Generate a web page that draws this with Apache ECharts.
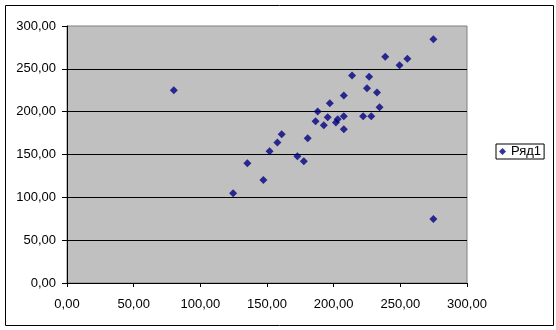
<!DOCTYPE html>
<html>
<head>
<meta charset="utf-8">
<script src="https://cdn.jsdelivr.net/npm/echarts@6/dist/echarts.min.js"></script>
<style>html,body{margin:0;padding:0;background:#fff;}#c{width:556px;height:330px;}</style>
</head>
<body>
<div id="c"></div>
<script>
var seriesName = 'Ряд1';
var xValues = [80.1,124.6,135.3,147.3,151.9,157.8,161.0,172.8,177.6,180.5,186.4,188.0,192.6,195.5,197.1,201.7,203.0,207.6,207.6,207.6,213.8,222.1,225.0,226.6,228.2,232.5,234.4,238.7,249.4,255.3,274.8,274.8];
var yValues = [225.0,104.9,139.9,120.1,153.9,164.0,173.7,148.1,142.2,169.0,188.9,200.1,184.2,193.5,209.8,187.3,191.2,194.7,218.8,179.5,242.1,194.7,227.3,240.9,194.7,222.3,205.2,264.2,254.1,261.9,284.5,74.6];
var points = xValues.map(function(x, i){ return [x, yValues[i]]; });
function fmt(v){ return v.toFixed(2).replace('.', ','); }
var font = 'Liberation Sans, Arial, sans-serif';
var chart = echarts.init(document.getElementById('c'), null, {renderer:'canvas'});
chart.setOption({
  animation: false,
  backgroundColor: '#fff',
  textStyle: {fontFamily: font},
  grid: {left: 67, right: 89, top: 26, bottom: 47, show: true, backgroundColor: '#C0C0C0', borderColor: '#808080', borderWidth: 1},
  xAxis: {
    type: 'value', min: 0, max: 300, interval: 50,
    axisLine: {show: true, onZero: false, lineStyle: {color: '#000', width: 1}},
    axisTick: {show: true, length: 4, lineStyle: {color: '#000'}},
    axisLabel: {formatter: fmt, color: '#000', fontSize: 13, fontFamily: font, margin: 15},
    splitLine: {show: false}
  },
  yAxis: {
    type: 'value', min: 0, max: 300, interval: 50,
    axisLine: {show: true, lineStyle: {color: '#000', width: 1}},
    axisTick: {show: true, length: 5, lineStyle: {color: '#000'}},
    axisLabel: {formatter: fmt, color: '#000', fontSize: 13, fontFamily: font, margin: 11},
    splitLine: {show: true, showMinLine: false, showMaxLine: false, lineStyle: {color: '#000', width: 1}}
  },
  legend: {
    left: 496, top: 144, orient: 'vertical',
    borderColor: '#000', borderWidth: 1, padding: [1, 3, 1, 3],
    itemWidth: 7, itemHeight: 7, itemGap: 0,
    textStyle: {color: '#000', fontSize: 13, fontFamily: font},
    data: [{name: seriesName, icon: 'diamond'}]
  },
  graphic: [{type: 'rect', shape: {x: 5.5, y: 5.5, width: 548, height: 320}, style: {fill: 'none', stroke: '#000', lineWidth: 1}, silent: true}],
  series: [{
    name: seriesName, type: 'scatter', data: points,
    symbol: 'diamond', symbolSize: 8,
    itemStyle: {color: '#000080'}
  }]
});
</script>
</body>
</html>
